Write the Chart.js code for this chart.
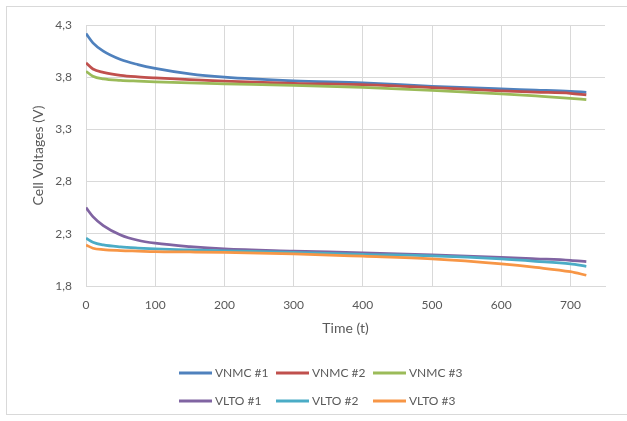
<!DOCTYPE html>
<html>
<head>
<meta charset="utf-8">
<script src="https://cdn.jsdelivr.net/npm/chart.js@4/dist/chart.umd.min.js"></script>
<style>
  html, body { margin: 0; padding: 0; background: #ffffff; }
  #wrap { position: relative; width: 627px; height: 421px; }
  #frame { position: absolute; left: 6px; top: 6px; width: 622px; height: 409px; border: 1px solid #d9d9d9; box-sizing: border-box; pointer-events: none; }
  canvas { position: absolute; left: 0; top: 0; }
</style>
</head>
<body>
<div id="wrap">
  <canvas id="c" width="627" height="421"></canvas>
  <div id="frame"></div>
</div>
<script>
// ---- data ----
const timePoints = [0, 10, 25, 50, 75, 100, 150, 200, 300, 400, 500, 600, 650, 700, 723];
const vnmc1 = [4.218, 4.129, 4.049, 3.969, 3.921, 3.885, 3.832, 3.800, 3.765, 3.745, 3.713, 3.688, 3.677, 3.665, 3.655];
const vnmc2 = [3.937, 3.879, 3.847, 3.818, 3.803, 3.793, 3.777, 3.763, 3.742, 3.729, 3.700, 3.670, 3.657, 3.646, 3.630];
const vnmc3 = [3.857, 3.809, 3.784, 3.770, 3.762, 3.755, 3.745, 3.737, 3.722, 3.702, 3.674, 3.640, 3.620, 3.598, 3.585];
const vlto1 = [2.551, 2.465, 2.379, 2.289, 2.238, 2.210, 2.177, 2.155, 2.135, 2.118, 2.098, 2.075, 2.061, 2.046, 2.033];
const vlto2 = [2.258, 2.219, 2.193, 2.174, 2.163, 2.155, 2.145, 2.137, 2.122, 2.103, 2.088, 2.059, 2.037, 2.011, 1.989];
const vlto3 = [2.193, 2.162, 2.148, 2.139, 2.134, 2.129, 2.126, 2.122, 2.108, 2.085, 2.059, 2.011, 1.978, 1.937, 1.903];
const seriesNames = ['VNMC #1', 'VNMC #2', 'VNMC #3', 'VLTO #1', 'VLTO #2', 'VLTO #3'];
const seriesValues = [vnmc1, vnmc2, vnmc3, vlto1, vlto2, vlto3];
const seriesColors = ['#4F81BD', '#C0504D', '#9BBB59', '#8064A2', '#4BACC6', '#F79646'];
const yAxisTitle = 'Cell Voltages (V)';
const xAxisTitle = 'Time (t)';

const FONT = 'Lato, "Open Sans", sans-serif';
const TEXT = '#595959';
const GRID = '#d9d9d9';

const datasets = seriesValues.map((vals, s) => ({
  label: seriesNames[s],
  data: timePoints.map((t, i) => ({ x: t, y: vals[i] })),
  borderColor: seriesColors[s],
  backgroundColor: seriesColors[s],
  borderWidth: 2.75,
  pointRadius: 0,
  cubicInterpolationMode: 'monotone',
  fill: false,
  order: seriesValues.length - s
}));

// legend drawn in an Excel-like 3-column grid
const gridLegend = {
  id: 'gridLegend',
  afterDraw(chart) {
    const ctx = chart.ctx;
    const cols = 3, colW = 97, rowY = [373, 401], startX = 179;
    ctx.save();
    ctx.font = '12px ' + FONT;
    ctx.textBaseline = 'middle';
    ctx.textAlign = 'left';
    chart.data.datasets.forEach((ds, i) => {
      const r = Math.floor(i / cols), c = i % cols;
      const x = startX + c * colW, y = rowY[r];
      ctx.strokeStyle = ds.borderColor;
      ctx.lineWidth = 3;
      ctx.beginPath();
      ctx.moveTo(x, y);
      ctx.lineTo(x + 33, y);
      ctx.stroke();
      ctx.fillStyle = TEXT;
      ctx.fillText(ds.label, x + 36, y + 0.5);
    });
    ctx.restore();
  }
};

new Chart(document.getElementById('c'), {
  type: 'line',
  data: { datasets },
  plugins: [gridLegend],
  options: {
    responsive: false,
    animation: false,
    layout: { padding: { left: 0, right: 22, top: 25, bottom: 70 } },
    plugins: { legend: { display: false }, tooltip: { enabled: false } },
    scales: {
      x: {
        type: 'linear',
        min: 0, max: 750,
        afterFit(scale) { scale.height = 65; },
        ticks: { stepSize: 100, includeBounds: false, padding: 12, color: TEXT, font: { family: FONT, size: 12 }, maxRotation: 0 },
        grid: { color: GRID, lineWidth: 1, drawTicks: false },
        border: { color: GRID },
        title: { display: true, text: xAxisTitle, color: TEXT, font: { family: FONT, size: 14 }, padding: { top: 0, bottom: 14 } }
      },
      y: {
        min: 1.8, max: 4.3,
        afterFit(scale) { scale.width = 86; },
        ticks: { stepSize: 0.5, padding: 14, color: TEXT, font: { family: FONT, size: 12 },
          callback: v => Number(v).toFixed(1).replace('.', ',') },
        grid: { color: GRID, lineWidth: 1, drawTicks: false },
        border: { color: GRID },
        title: { display: true, text: yAxisTitle, color: TEXT, font: { family: FONT, size: 14 }, padding: { top: 30, bottom: 0 } }
      }
    }
  }
});
</script>
</body>
</html>
